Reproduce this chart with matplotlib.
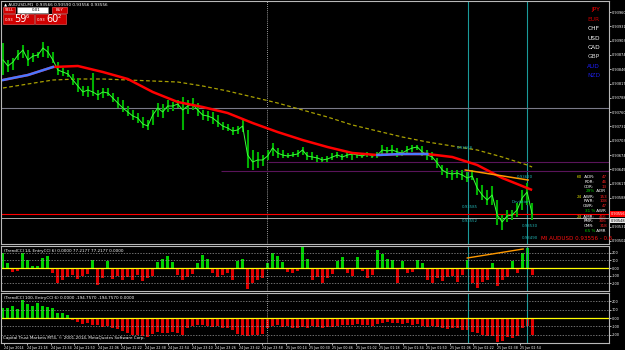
import numpy as np
import matplotlib.pyplot as plt
from matplotlib.patches import Rectangle

W, H = 625, 350


def fx(x):
    return x / W


def fy(y):
    return 1 - y / H


# AUDUSD M1 bars
highs = [0.93898, 0.93864, 0.93868, 0.93884, 0.93894, 0.93884, 0.93878, 0.93880, 0.93900, 0.93892,
         0.93880, 0.93860, 0.93848, 0.93844, 0.93836, 0.93828, 0.93812, 0.93812, 0.93838, 0.93804,
         0.93808, 0.93808, 0.93798, 0.93790, 0.93784, 0.93772, 0.93764, 0.93758, 0.93750, 0.93744,
         0.93764, 0.93778, 0.93776, 0.93784, 0.93780, 0.93784, 0.93790, 0.93784, 0.93788, 0.93778,
         0.93764, 0.93762, 0.93760, 0.93754, 0.93740, 0.93736, 0.93730, 0.93732, 0.93744, 0.93724,
         0.93684, 0.93680, 0.93674, 0.93684, 0.93698, 0.93688, 0.93684, 0.93678, 0.93680, 0.93684,
         0.93690, 0.93680, 0.93680, 0.93674, 0.93670, 0.93672, 0.93678, 0.93680, 0.93676, 0.93680,
         0.93680, 0.93678, 0.93678, 0.93680, 0.93676, 0.93680, 0.93694, 0.93690, 0.93694, 0.93688,
         0.93684, 0.93692, 0.93694, 0.93694, 0.93692, 0.93684, 0.93680, 0.93668, 0.93654, 0.93648,
         0.93644, 0.93644, 0.93644, 0.93640, 0.93644, 0.93628, 0.93614, 0.93604, 0.93612, 0.93584,
         0.93554, 0.93564, 0.93564, 0.93578, 0.93604, 0.93618, 0.93578]
lows = [0.93834, 0.93840, 0.93844, 0.93864, 0.93868, 0.93852, 0.93860, 0.93868, 0.93870, 0.93868,
        0.93858, 0.93834, 0.93832, 0.93830, 0.93814, 0.93800, 0.93792, 0.93790, 0.93792, 0.93784,
        0.93788, 0.93792, 0.93780, 0.93768, 0.93760, 0.93752, 0.93744, 0.93738, 0.93728, 0.93724,
        0.93734, 0.93750, 0.93748, 0.93760, 0.93762, 0.93768, 0.93724, 0.93756, 0.93764, 0.93752,
        0.93744, 0.93742, 0.93736, 0.93730, 0.93724, 0.93722, 0.93714, 0.93716, 0.93720, 0.93648,
        0.93644, 0.93648, 0.93652, 0.93664, 0.93672, 0.93668, 0.93668, 0.93668, 0.93670, 0.93670,
        0.93674, 0.93664, 0.93664, 0.93660, 0.93660, 0.93660, 0.93664, 0.93668, 0.93664, 0.93668,
        0.93664, 0.93668, 0.93668, 0.93670, 0.93668, 0.93668, 0.93674, 0.93672, 0.93676, 0.93670,
        0.93672, 0.93674, 0.93680, 0.93684, 0.93672, 0.93664, 0.93664, 0.93648, 0.93634, 0.93628,
        0.93624, 0.93628, 0.93624, 0.93620, 0.93624, 0.93594, 0.93584, 0.93574, 0.93574, 0.93534,
        0.93524, 0.93540, 0.93544, 0.93550, 0.93564, 0.93574, 0.93544]
closes = [0.93864, 0.93852, 0.93860, 0.93874, 0.93884, 0.93864, 0.93872, 0.93874, 0.93888, 0.93880,
          0.93864, 0.93844, 0.93840, 0.93836, 0.93824, 0.93812, 0.93800, 0.93804, 0.93800, 0.93794,
          0.93800, 0.93798, 0.93788, 0.93778, 0.93768, 0.93760, 0.93752, 0.93748, 0.93736, 0.93732,
          0.93754, 0.93768, 0.93760, 0.93772, 0.93772, 0.93776, 0.93764, 0.93772, 0.93776, 0.93764,
          0.93754, 0.93752, 0.93748, 0.93740, 0.93732, 0.93728, 0.93722, 0.93724, 0.93732, 0.93674,
          0.93660, 0.93664, 0.93664, 0.93672, 0.93688, 0.93678, 0.93674, 0.93672, 0.93674, 0.93676,
          0.93684, 0.93672, 0.93670, 0.93668, 0.93664, 0.93666, 0.93670, 0.93674, 0.93670, 0.93674,
          0.93676, 0.93674, 0.93672, 0.93676, 0.93672, 0.93674, 0.93684, 0.93682, 0.93684, 0.93680,
          0.93678, 0.93684, 0.93688, 0.93690, 0.93680, 0.93674, 0.93670, 0.93658, 0.93644, 0.93638,
          0.93636, 0.93638, 0.93634, 0.93628, 0.93632, 0.93608, 0.93594, 0.93584, 0.93594, 0.93554,
          0.93540, 0.93552, 0.93554, 0.93564, 0.93588, 0.93600, 0.93556]

# moving averages, sampled every 5 bars
ma_idx = [0, 5, 10, 15, 20, 25, 30, 35, 40, 45, 50, 55, 60, 65, 70, 75, 80, 85, 90, 95, 100, 105, 106]
ma_fast = [0.93824, 0.93834, 0.93850, 0.93852, 0.93840, 0.93826, 0.93800, 0.93780, 0.93770, 0.93758,
           0.93738, 0.93720, 0.93704, 0.93690, 0.93678, 0.93674, 0.93676, 0.93676, 0.93670, 0.93654,
           0.93628, 0.93608, 0.93604]
ma_slow = [0.93808, 0.93816, 0.93824, 0.93826, 0.93826, 0.93824, 0.93822, 0.93820, 0.93812, 0.93802,
           0.93790, 0.93778, 0.93764, 0.93750, 0.93734, 0.93722, 0.93710, 0.93700, 0.93692, 0.93684,
           0.93670, 0.93654, 0.93650]

cci14 = [200, 60, -50, -40, 190, 100, 30, 25, 130, 155,
         -60, -195, -150, -120, -90, -140, -110, -80, 100, -220,
         -130, 90, -140, -100, -160, -120, -150, -90, -170, -130,
         -100, 80, 120, 150, 80, -90, -160, -120, -80, 60,
         170, 120, -70, -120, -90, -60, -155, 90, 120, -275,
         -200, -160, -130, 60, 195, 150, 80, -50, -60, -40,
         275, 120, -150, -120, -190, -130, -80, 90, 140, -60,
         -100, 140, -40, -130, -90, 235, 180, 120, 100, -190,
         85, -60, -50, 110, 60, -150, -190, -130, -170, -120,
         -110, -180, -90, 110, -200, -260, -180, -150, 70, -240,
         -160, -120, 90, -60, 200, 260, -85]
cci100 = [115, 120, 150, 110, 215, 170, 140, 175, 150, 130,
          120, 60, 55, 35, -30, -50, -70, -60, -85, -90,
          -110, -100, -125, -130, -160, -180, -200, -210, -220, -230,
          -190, -170, -180, -175, -170, -185, -200, -120, -100, -90,
          -80, -95, -110, -100, -120, -125, -150, -190, -205, -215,
          -210, -200, -190, -120, -100, -90, -110, -100, -115, -120,
          -110, -115, -100, -110, -120, -105, -110, -95, -90, -80,
          -85, -70, -80, -90, -95, -75, -60, -45, -60, -55,
          -70, -65, -80, -75, -95, -105, -100, -110, -125, -135,
          -120, -125, -140, -150, -165, -180, -200, -215, -220, -290,
          -280, -230, -240, -220, -120, -100, -200]

time_labels = ["24 Jun 2014", "24 Jun 21:18", "24 Jun 21:34", "24 Jun 21:50", "24 Jun 22:06",
               "24 Jun 22:22", "24 Jun 22:38", "24 Jun 22:54", "24 Jun 23:10", "24 Jun 23:26",
               "24 Jun 23:42", "24 Jun 23:58", "25 Jun 00:14", "25 Jun 00:30", "25 Jun 00:46",
               "25 Jun 01:02", "25 Jun 01:18", "25 Jun 01:34", "25 Jun 01:50", "25 Jun 02:06",
               "25 Jun 02:22", "25 Jun 02:38", "25 Jun 02:54"]

currencies = ["JPY", "EUR", "CHF", "USD", "CAD", "GBP", "AUD", "NZD"]
cur_colors = ["#ff0000", "#c80000", "#ffffff", "#ffffff", "#ffffff", "#d8d8d8", "#1e1eff", "#1e1ee0"]

bars = np.arange(len(closes))
xlim = (-0.4, 121.4)
bg = "black"
grid_c = "#9a9a9a"

fig = plt.figure(figsize=(6.25, 3.5), dpi=100, facecolor=bg)
main = fig.add_axes([fx(1), fy(244), 608 / W, 243 / H])
sub1 = fig.add_axes([fx(1), fy(291), 608 / W, 45 / H])
sub2 = fig.add_axes([fx(1), fy(343), 608 / W, 50 / H])

for ax in (main, sub1, sub2):
    ax.set_facecolor(bg)
    ax.set_xlim(*xlim)
    for s in ax.spines.values():
        s.set_color("#b8b8b8")
        s.set_linewidth(0.8)
    ax.yaxis.tick_right()
    ax.tick_params(axis="y", colors="white", labelsize=2.5, length=1.2, width=0.5, pad=0.6)
    ax.tick_params(axis="x", colors="white", labelsize=2.3, length=1.2, width=0.5, pad=0.8)
    ax.set_xticks([])
    # event lines through all windows
    ax.axvline(52.8, color="#d0d0d0", lw=0.6, ls=(0, (1, 1.5)))
    ax.axvline(93.2, color="#1a9a9a", lw=0.8)
    ax.axvline(105.0, color="#1a9a9a", lw=0.8)

# ---- main window
main.set_ylim(0.93496, 0.93982)
main.axhline(0.93768, color="#7a7a88", lw=0.8)
main.hlines(0.93660, 53, xlim[1], color="#5a145a", lw=0.8)
main.hlines(0.93642, 43.6, xlim[1], color="#5a145a", lw=0.8)
main.axhline(0.93556, color="#ff0000", lw=0.8)
main.axhline(0.93548, color="#c8c8c8", lw=0.6)

main.plot(ma_idx, ma_slow, color="#a8a000", lw=0.9, dashes=(3, 2))
main.vlines(bars, lows, highs, color="#00b000", lw=1.5)
main.plot(bars, closes, color="#3cff3c", lw=0.7)
main.plot(ma_idx, ma_fast, color="#ff0000", lw=1.8, solid_capstyle="butt")
main.plot(ma_idx[:3], ma_fast[:3], color="#4a78ff", lw=1.8)
main.plot(ma_idx[15:18], ma_fast[15:18], color="#4a78ff", lw=1.8)
main.plot([92.6, 105.2], [0.93644, 0.93624], color="#ff9900", lw=1.1)

ptick = np.arange(0.93960, 0.93500, -0.000286)
main.set_yticks(ptick)
main.set_yticklabels([f"{p:.5f}" for p in ptick])

main.annotate("0.93556", xy=(1.0, 0.93556), xycoords=("axes fraction", "data"), xytext=(1, 0),
              textcoords="offset points", fontsize=2.5, color="white", va="center",
              bbox=dict(boxstyle="square,pad=0.15", fc="#ff0000", ec="none"))
main.annotate("0.93548", xy=(1.0, 0.93548), xycoords=("axes fraction", "data"), xytext=(1, -2),
              textcoords="offset points", fontsize=2.5, color="black", va="center",
              bbox=dict(boxstyle="square,pad=0.15", fc="#e8e8e8", ec="none"))

# teal level tags near the last bars
teal = "#22b4b4"
for tx, ty, t in [(457, 148, "0.93668"), (517, 177, "0.93620"), (512, 202, "Deviation"),
                  (462, 207, "0.93585"), (462, 221, "0.93552"), (522, 226, "0.93530"),
                  (522, 238, "0.93490")]:
    fig.text(fx(tx), fy(ty), t, color=teal, fontsize=2.8, va="center")

# ---- sub window 1
sub1.set_ylim(-299, 286)
for lv in (200, 100, -100, -200):
    sub1.axhline(lv, color=grid_c, lw=0.5, ls=(0, (2, 2)))
sub1.bar(bars, cci14, width=0.6, color=["#00d000" if v > 0 else "#e00000" for v in cci14])
sub1.axhline(0, color="#ffff00", lw=0.9)
sub1.plot([93, 104.2], [130, 247], color="#ff9900", lw=1.0)
sub1.set_yticks([200, 100, 0, -100, -200])
sub1.set_yticklabels(["200", "100", "0.00", "-100", "-200"])
sub1.text(0.005, 0.94, "(TrendCCI 14, EntryCCI 6) 0.0000 77.2177 77.2177 0.0000",
          transform=sub1.transAxes, color="white", fontsize=3, va="top")

# ---- sub window 2
sub2.set_ylim(-301, 301)
for lv in (200, 100, -100, -200):
    sub2.axhline(lv, color=grid_c, lw=0.5, ls=(0, (2, 2)))
sub2.bar(bars, cci100, width=0.6, color=["#00d000" if v > 0 else "#e00000" for v in cci100])
sub2.axhline(0, color="#ffff00", lw=0.9)
sub2.set_yticks([200, 100, 0, -100, -200])
sub2.set_yticklabels(["200", "100", "0.00", "-100", "-200"])
sub2.text(0.005, 0.94, "(TrendCCI 100, EntryCCI 6) 0.0000 -194.7570 -194.7570 0.0000",
          transform=sub2.transAxes, color="white", fontsize=3, va="top")
sub2.text(0.004, 0.06, "Capital Trust Markets MT4, \u00a9 2001-2014, MetaQuotes Software Corp.",
          transform=sub2.transAxes, color="white", fontsize=3, va="bottom")
sub2.set_xticks(np.arange(len(time_labels)) * 4.7 + 0.2)
sub2.set_xticklabels(time_labels, ha="left")

# ---- title and trade panel
fig.text(fx(4), fy(4), "\u25b2 AUDUSD,M1  0.93566 0.93590 0.93556 0.93556", color="white",
         fontsize=3, va="center")
red = "#d00000"
fig.add_artist(Rectangle((fx(3), fy(13)), 12 / W, 6 / H, fc=red, ec="#ff6060", lw=0.4))
fig.text(fx(9), fy(10), "SELL", color="white", fontsize=2.8, ha="center", va="center")
fig.add_artist(Rectangle((fx(17), fy(13)), 31 / W, 6 / H, fc="white", ec="#888888", lw=0.4))
fig.text(fx(40), fy(10), "0.01", color="black", fontsize=2.8, ha="right", va="center")
fig.add_artist(Rectangle((fx(52), fy(13)), 15 / W, 6 / H, fc=red, ec="#ff6060", lw=0.4))
fig.text(fx(59.5), fy(10), "BUY", color="white", fontsize=2.8, ha="center", va="center")
for x0, big, sup in [(3, "59", "6"), (35, "60", "2")]:
    fig.add_artist(Rectangle((fx(x0), fy(24)), 31 / W, 10 / H, fc=red, ec="#ff6060", lw=0.4))
    fig.text(fx(x0 + 2), fy(20), "0.93", color="white", fontsize=2.8, va="center")
    fig.text(fx(x0 + 11), fy(19), big, color="white", fontsize=7, va="center")
    fig.text(fx(x0 + 23), fy(16.5), sup, color="white", fontsize=3.5, va="center")

# currency strength list
for i, (c, col) in enumerate(zip(currencies, cur_colors)):
    fig.text(fx(600), fy(10 + 9.4 * i), c, color=col, fontsize=4.2, ha="right", va="center")

# range statistics panel
rows = [("60", " ADR:", "47", 177), ("", "PDR:", "46", 182), ("", "CDR:", "13", 187),
        ("24", " AWR:", "153", 197), ("", "PWR:", "108", 201.5), ("", "CWR:", "47", 206),
        ("24", " AMR:", "466", 217), ("", "PMR:", "306", 221.5), ("", "CMR:", "318", 226)]
for num, lab, val, y in rows:
    fig.text(fx(594), fy(y), lab, color="white", fontsize=3, ha="right", va="center")
    if num:
        fig.text(fx(582), fy(y), num, color="#e0e000", fontsize=3, ha="right", va="center")
    fig.text(fx(607), fy(y), val, color="#ff2020", fontsize=3, ha="right", va="center")
for pct, lab, y in [("29%", " ADR", 191.5), ("31 %", " AWR", 211), ("65 %", " AMR", 231)]:
    fig.text(fx(595), fy(y), pct, color="#00d000", fontsize=3, ha="right", va="center")
    fig.text(fx(595), fy(y), lab, color="white", fontsize=3, ha="left", va="center")
fig.text(fx(541), fy(239), "MI AUDUSD 0.93556 - 0.6", color="#ff1010", fontsize=4.1, va="center")

fig.savefig("out.png", dpi=100, facecolor=bg)
